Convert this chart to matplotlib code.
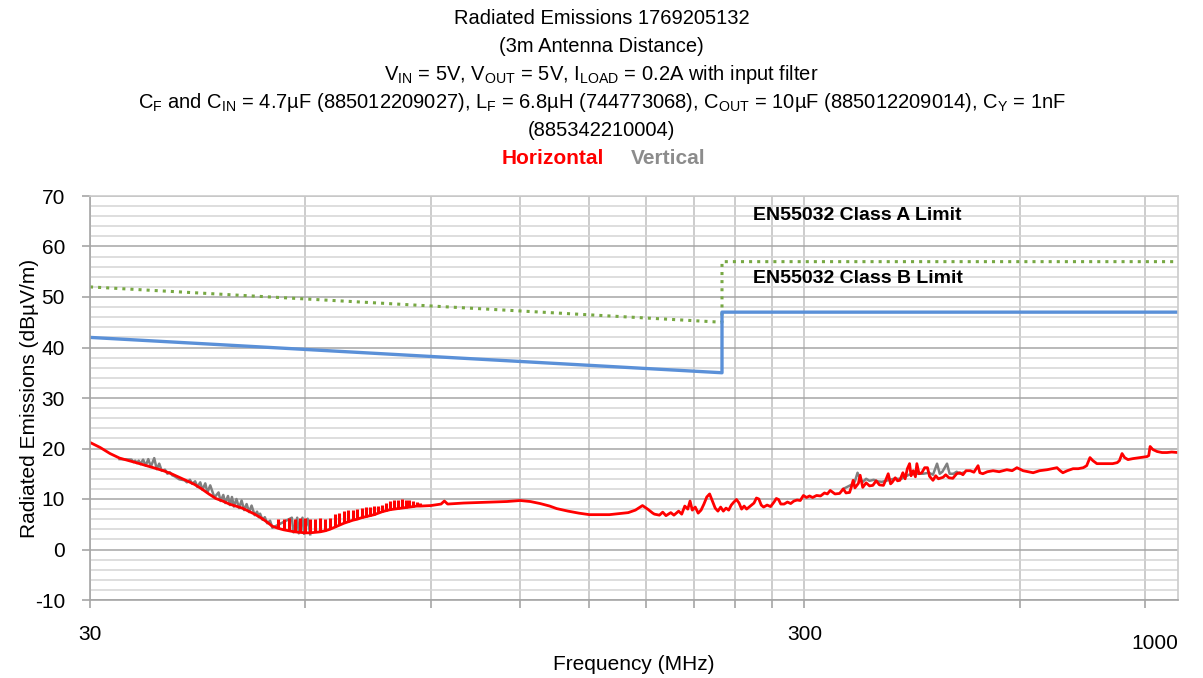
'''Radiated emissions plot with EN55032 limit lines'''

import matplotlib
matplotlib.use("Agg")
import matplotlib.pyplot as plt
import matplotlib.ticker as mticker

FONT = 'Liberation Sans'
plt.rcParams['font.family'] = [FONT, 'DejaVu Sans']
plt.rcParams['mathtext.fontset'] = 'custom'
plt.rcParams['mathtext.rm'] = FONT
plt.rcParams['axes.unicode_minus'] = False

# limit lines (MHz, dBuV/m)
class_a_freq = [30, 230, 230, 1000]
class_a_db = [52, 45, 57, 57]
class_b_freq = [30, 230, 230, 1000]
class_b_db = [42, 35, 47, 47]

# horizontal polarisation trace
red_freq = [30, 31, 32, 33, 34, 35, 36, 37, 38, 39, 40, 41, 42, 43, 44, 45, 46, 47, 48, 49,
            50, 51, 52, 53, 54, 55, 56, 57, 58, 59, 60, 61, 62, 63, 64, 65, 66, 67, 68, 69,
            70, 71, 72, 73, 74, 75, 76, 77, 78, 79, 80, 81, 82, 83, 84, 85, 86, 87, 90, 93,
            94, 95, 100, 105, 110, 115, 120, 124, 128, 132, 135, 140, 145, 150, 160, 165, 170, 174,
            178, 181, 184,
            185, 188, 190, 192, 195, 197, 200, 202, 204, 206, 207.5, 209, 211, 213, 215, 217,
            219, 221, 223, 225, 227, 229, 231, 233, 235, 237, 239, 241, 243, 245, 247, 249,
            252, 255, 257, 259, 261, 263, 266, 269, 272, 274, 276, 278, 281, 284, 287, 290,
            293, 296, 299, 302, 305, 308, 312, 316, 320, 323,
            326, 331, 336, 340, 343, 347, 349, 351, 353, 357, 359, 362, 366, 370, 374, 378,
            382, 387, 390, 393, 396, 398, 402, 405, 408, 412, 415, 418, 421, 423, 426, 429,
            431, 434, 438, 442, 446, 449, 454, 458, 462, 469, 473, 478, 484, 490, 495, 500,
            505, 512, 518, 525, 528, 533, 541, 551, 562, 576, 586, 595, 607, 617, 627, 640,
            656, 667, 677, 684, 690, 700, 713, 725, 737, 745, 753, 760, 770, 782, 796, 810,
            822, 828, 835, 842, 851, 865, 885, 905, 910, 914, 922, 935, 950, 965, 980, 1000]
red_db = [21.2, 20.2, 19.0, 18.1, 17.6, 17.1, 16.6, 16.1, 15.6, 15.0, 14.3, 13.6, 12.9, 12.0, 11.0, 10.1, 9.6, 9.0, 8.6, 8.2,
          7.6, 7.0, 6.3, 5.5, 4.6, 4.2, 3.9, 3.7, 3.5, 3.4, 3.3, 3.3, 3.4, 3.5, 3.7, 4.0, 4.4, 4.8, 5.2, 5.5,
          5.8, 6.0, 6.3, 6.5, 6.7, 6.9, 7.2, 7.5, 7.7, 7.9, 8.0, 8.1, 8.2, 8.3, 8.4, 8.5, 8.6, 8.6, 8.7, 9.0,
          9.6, 9.0, 9.2, 9.3, 9.4, 9.5, 9.7, 9.5, 9.1, 8.6, 8.1, 7.6, 7.2, 6.9, 6.9, 7.1, 7.3, 7.8,
          8.7, 8.0, 7.2,
          7.0, 6.8, 7.4, 6.7, 7.3, 6.8, 7.6, 7.0, 8.6, 8.0, 9.6, 7.8, 8.4, 7.2, 7.8, 9.0,
          10.4, 11.0, 9.6, 8.2, 7.6, 8.4, 7.6, 8.2, 7.8, 8.8, 9.4, 9.9, 9.2, 8.0, 8.6, 8.0,
          8.6, 9.2, 10.2, 10.0, 8.8, 8.4, 8.8, 8.5, 9.4, 10.1, 9.9, 9.0, 9.0, 9.4, 9.1, 9.6,
          9.8, 9.7, 10.7, 10.3, 10.6, 10.3, 10.7, 10.6, 11.2, 11.0,
          11.7, 11.0, 11.1, 12.0, 11.2, 11.3, 12.4, 13.7, 12.2, 13.1, 14.7, 12.3, 13.2, 12.6, 12.7, 13.6,
          12.8, 12.7, 13.8, 15.0, 13.0, 13.3, 14.2, 13.6, 13.7, 15.2, 14.0, 16.0, 17.0, 14.6, 15.6, 14.4,
          17.0, 15.0, 15.2, 16.2, 16.2, 14.5, 13.7, 14.6, 14.0, 14.3, 14.8, 14.2, 14.1, 15.0, 15.2, 14.8,
          15.6, 15.6, 15.3, 16.6, 15.2, 15.0, 15.4, 15.6, 15.4, 15.8, 15.6, 16.2, 15.6, 15.4, 15.2, 15.6,
          15.8, 16.0, 16.2, 15.6, 15.2, 15.6, 16.0, 16.0, 16.2, 16.6, 18.2, 17.6, 17.0, 17.0, 17.0, 17.0,
          17.2, 17.6, 19.0, 18.2, 17.8, 18.0, 18.2, 18.4, 18.6, 20.4, 19.8, 19.4, 19.2, 19.2, 19.3, 19.2]

# comb of spikes on the horizontal trace between 55 and 87 MHz
red_comb_freq = [55, 56, 57, 58, 59, 60, 61, 62, 63, 64, 65, 66, 67, 68, 69, 70, 71,
                 72, 73, 74, 75, 76, 77, 78, 79, 80, 81, 82, 83, 84, 85, 86, 87]
red_comb_lo = [4.2, 3.9, 3.7, 3.5, 3.4, 3.3, 3.3, 3.4, 3.5, 3.7, 4.0, 4.4, 4.8, 5.2, 5.5, 5.8, 6.0,
               6.3, 6.5, 6.7, 6.9, 7.2, 7.5, 7.7, 7.9, 8.0, 8.1, 8.2, 8.3, 8.4, 8.5, 8.6, 8.6]
red_comb_hi = [6.0, 6.1, 6.3, 6.0, 6.2, 6.2, 6.0, 6.1, 6.2, 6.0, 6.2, 7.0, 7.3, 7.6, 7.8, 7.8, 8.0,
               8.2, 8.4, 8.5, 8.6, 8.7, 8.8, 9.2, 9.6, 9.9, 9.9, 10.0, 9.9, 9.8, 9.7, 9.5, 9.2]

# vertical polarisation trace, only where it shows above the red one
gray_low_freq = [33.0, 34.3, 34.5, 34.7, 34.9, 35.1, 35.3, 35.6, 35.9, 36.2, 36.5, 36.9, 37.2,
                 37.5, 37.8, 38.2, 38.5, 38.8, 39.1, 39.4, 40.0, 40.7, 41.0, 41.4, 41.7, 42.1, 42.4,
                 42.8, 43.1, 43.5, 43.8, 44.2, 44.8, 45.4, 45.7, 46.1, 46.4, 46.8, 47.1, 47.4, 47.7,
                 48.1, 48.5, 48.9, 49.3, 49.7, 50.1, 50.5, 51.0, 51.4, 51.7, 51.9, 52.3, 52.7, 53.1,
                 53.6, 54.0, 57.5, 57.8, 58.5, 58.8, 59.5, 59.8, 60.5, 61.0]
gray_low_db = [17.9, 17.8, 17.3, 17.6, 17.1, 17.6, 16.9, 17.8, 16.6, 17.9, 16.4, 18.1, 15.9,
               17.0, 15.6, 15.8, 15.0, 15.3, 14.7, 14.5, 13.9, 13.7, 13.3, 13.8, 13.0, 13.5, 12.4,
               13.3, 11.8, 13.1, 11.3, 12.7, 10.3, 11.3, 9.6, 10.8, 9.2, 10.6, 8.8, 10.4, 8.5,
               10.0, 8.2, 9.7, 7.8, 9.0, 7.4, 8.7, 6.8, 7.5, 6.4, 7.1, 5.9, 6.4, 5.2,
               5.7, 4.3, 6.3, 3.4, 6.3, 3.2, 6.3, 3.1, 6.1, 3.0]
gray_mid_freq = [340, 351, 353, 356, 359, 362, 366, 370, 375, 380, 385, 390, 395, 400, 410, 420,
                 430, 440, 448, 454, 460, 464, 468, 475, 479, 485, 490, 495, 500]
gray_mid_db = [12.0, 13.0, 13.5, 15.2, 14.0, 13.4, 14.0, 13.6, 13.8, 13.5, 13.4, 13.6, 13.8, 14.0, 14.0, 14.8,
               15.0, 15.0, 15.2, 14.8, 17.0, 15.0, 15.4, 17.0, 15.0, 15.0, 15.4, 15.0, 15.2]

title_lines = [
    'Radiated Emissions 1769205132',
    '(3m Antenna Distance)',
    r'V$_{\mathrm{IN}}$ = 5V, V$_{\mathrm{OUT}}$ = 5V, I$_{\mathrm{LOAD}}$ = 0.2A with input filter',
    r'C$_{\mathrm{F}}$ and C$_{\mathrm{IN}}$ = 4.7µF (885012209027), L$_{\mathrm{F}}$ = 6.8µH (744773068), '
    r'C$_{\mathrm{OUT}}$ = 10µF (885012209014), C$_{\mathrm{Y}}$ = 1nF',
    '(885342210004)',
]
title_y = [18, 46, 74, 103, 131]

W, H = 1203, 678
fig = plt.figure(figsize=(W / 100, H / 100), dpi=100)
ax = fig.add_axes([90 / W, 1 - 600 / H, (1178 - 90) / W, (600 - 196) / H])

# grid: x lines at every multiple of 30 (Excel style log axis), y every 2 dB
ax.set_xscale('log')
ax.set_xlim(30, 1000)
ax.set_ylim(-10, 70)
ax.xaxis.set_major_locator(mticker.FixedLocator([30, 300]))
ax.xaxis.set_minor_locator(mticker.FixedLocator([60, 90, 120, 150, 180, 210, 240, 270, 600, 900]))
ax.xaxis.set_major_formatter(mticker.FormatStrFormatter('%d'))
ax.xaxis.set_minor_formatter(mticker.NullFormatter())
ax.yaxis.set_major_locator(mticker.MultipleLocator(10))
ax.yaxis.set_minor_locator(mticker.MultipleLocator(2))
ax.grid(which='major', axis='y', color='#a6a6a6', linewidth=1.1)
ax.grid(which='minor', axis='y', color='#d4d4d4', linewidth=1.1)
ax.grid(which='both', axis='x', color='#cccccc', linewidth=1.4)
ax.set_axisbelow(True)

for side in ['left', 'bottom']:
    ax.spines[side].set_color('#a6a6a6')
    ax.spines[side].set_linewidth(1.2)
for side in ['top', 'right']:
    ax.spines[side].set_color('#cccccc')
    ax.spines[side].set_linewidth(1.2)

ax.tick_params(axis='both', which='both', direction='out', color='#a6a6a6', length=6, width=1.2,
               labelsize=15, pad=12)
ax.tick_params(axis='y', which='minor', length=0)
ax.tick_params(axis='x', which='both', length=6)
ax.text(1.0, -0.085, '1000', transform=ax.transAxes, ha='right', va='top', fontsize=15)

# data
ax.plot(gray_low_freq, gray_low_db, color='#808080', linewidth=1.8)
ax.plot(gray_mid_freq, gray_mid_db, color='#808080', linewidth=1.8)
ax.plot(red_freq, red_db, color='#ff0000', linewidth=2.0)
ax.vlines(red_comb_freq, red_comb_lo, red_comb_hi, color='#ff0000', linewidth=2.2)
ax.plot(class_a_freq, class_a_db, color='#77a843', linestyle=':', linewidth=2.2)
ax.plot(class_b_freq, class_b_db, color='#5a90d8', linewidth=2.4)

ax.text(254, 66.1, 'EN55032 Class A Limit', fontsize=14, fontweight='bold', va='center')
ax.text(254, 53.7, 'EN55032 Class B Limit', fontsize=14, fontweight='bold', va='center')

ax.set_xlabel('Frequency (MHz)', fontsize=15, labelpad=8)
ax.set_ylabel('Radiated Emissions (dBµV/m)', fontsize=15, labelpad=-3)

for line, y in zip(title_lines, title_y):
    fig.text(0.5, 1 - y / H, line, ha='center', va='center', fontsize=14.5)
fig.text(553 / W, 1 - 159 / H, 'Horizontal', ha='center', va='center', fontsize=15,
         fontweight='bold', color='#ff0000')
fig.text(668 / W, 1 - 159 / H, 'Vertical', ha='center', va='center', fontsize=15,
         fontweight='bold', color='#8c8c8c')

fig.savefig('out.png', dpi=100)
